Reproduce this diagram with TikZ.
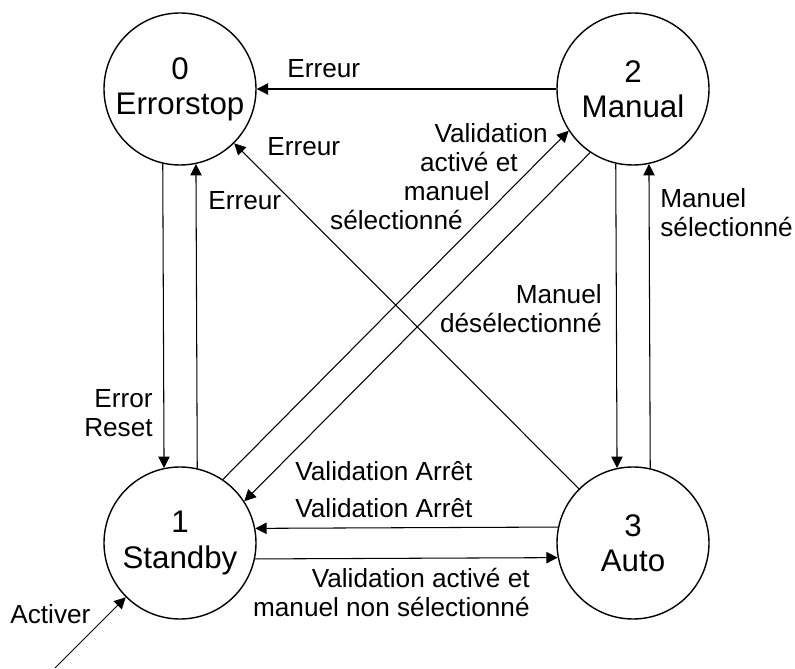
\documentclass[tikz,border=0pt]{standalone}
\usepackage{fontspec}
\setmainfont{Liberation Sans}
\usetikzlibrary{arrows.meta}

\begin{document}
\begin{tikzpicture}[
      state/.style={circle, draw, line width=0.8pt, minimum size=3.04cm, inner sep=0pt, align=center, font=\fontsize{17.8}{20}\selectfont},
      lbl/.style={inner sep=0pt, font=\fontsize{14.9}{16.5}\selectfont},
      arrow/.style={-{Triangle[length=6.5pt, width=6.5pt]}, line width=0.6pt}
  ]
  \useasboundingbox (0,0) rectangle (15.9,13.36);

  % Nodes
  \node[state] (errorstop) at (3.6,11.58) {0\\Errorstop};
  \node[state] (manual) at (12.66,11.58) {2\\Manual};
  \node[state] (standby) at (3.6,2.5) {1\\Standby};
  \node[state] (auto) at (12.66,2.5) {3\\Auto};
  \coordinate (start) at (1.1,0);

  % Arrows
  \draw[arrow] (manual) -- (errorstop);
  \draw[arrow] (errorstop.257.1) -- (standby.102.9);
  \draw[arrow] (standby.77.1) -- (errorstop.282.9);
  \draw[arrow] (auto) -- (errorstop);
  \draw[arrow] (standby.56.4) -- (manual.213.6);
  \draw[arrow] (manual.236.4) -- (standby.33.6);
  \draw[arrow] (manual.257.1) -- (auto.102.9);
  \draw[arrow] (auto.77.1) -- (manual.282.9);
  \draw[arrow] (auto.168.6) -- (standby.11.4);
  \draw[arrow] (standby.348.6) -- (auto.191.4);
  \draw[arrow] (start) -- (standby.225);

  % Labels
  \node[lbl, anchor=base west] (err20) at (5.74,11.8) {Erreur};
  \node[lbl, anchor=base west] (err30) at (5.34,10.24) {Erreur};
  \node[lbl, anchor=base west] (err10) at (4.16,9.16) {Erreur};
  \node[lbl, anchor=east, align=right] (reset) at (3.06,5.1) {Error\\Reset};
  \node[lbl, anchor=east, align=right] (desel) at (12.04,7.18) {Manuel\\désélectionné};
  \node[lbl, anchor=west, align=left] (sel) at (13.2,9.1) {Manuel\\sélectionné};
  \node[lbl, anchor=base west] (stop21) at (5.9,3.74) {Validation Arrêt};
  \node[lbl, anchor=base west] (stop31) at (5.9,3.0) {Validation Arrêt};
  \node[lbl, anchor=east, align=right] (val13) at (10.6,1.52) {Validation activé et\\manuel non sélectionné};
  \node[lbl, anchor=east, align=right] (val12) at (10.96,9.82) {Validation\\activé et\hbox to 0.6cm{}\\manuel\hbox to 1.16cm{}\\sélectionné\hbox to 1.7cm{}};
  \node[lbl, anchor=base west] (activer) at (0.2,0.9) {Activer};

\end{tikzpicture}
\end{document}
